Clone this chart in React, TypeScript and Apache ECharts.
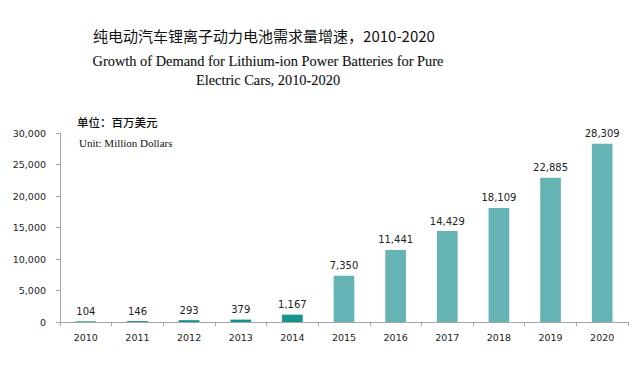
import React, { useEffect, useRef } from "react";
import * as echarts from "echarts";

const years = ["2010", "2011", "2012", "2013", "2014", "2015", "2016", "2017", "2018", "2019", "2020"];
const demand = [104, 146, 293, 379, 1167, 7350, 11441, 14429, 18109, 22885, 28309];
const yTicks = { min: 0, max: 30000, interval: 5000 };
const titleCn = "纯电动汽车锂离子动力电池需求量增速，2010-2020";
const titleEn1 = "Growth of Demand for Lithium-ion Power Batteries for Pure";
const titleEn2 = "Electric Cars, 2010-2020";
const unitCn = "单位：百万美元";
const unitEn = "Unit: Million Dollars";

const darkTeal = "#16948c";
const lightTeal = "#66b3b3";

export default function App() {
  const ref = useRef<HTMLDivElement>(null);
  useEffect(() => {
    if (!ref.current) return;
    const chart = echarts.init(ref.current, undefined, { renderer: "svg" });
    chart.setOption({
      animation: false,
      backgroundColor: "#ffffff",
      grid: { left: 60, right: 12, top: 133, bottom: 47 },
      graphic: [
        {
          type: "text",
          x: 264,
          y: 35,
          style: {
            text: titleCn,
            font: '15px "Noto Sans CJK SC"',
            fill: "#111",
            align: "center",
            verticalAlign: "middle",
          },
        },
        {
          type: "text",
          x: 268,
          y: 61,
          style: {
            text: titleEn1,
            font: '14.4px "Liberation Serif"',
            fill: "#111",
            stroke: "#111",
            lineWidth: 0.12,
            align: "center",
            verticalAlign: "middle",
          },
        },
        {
          type: "text",
          x: 268,
          y: 80,
          style: {
            text: titleEn2,
            font: '14.4px "Liberation Serif"',
            fill: "#111",
            stroke: "#111",
            lineWidth: 0.12,
            align: "center",
            verticalAlign: "middle",
          },
        },
        {
          type: "text",
          x: 77,
          y: 122,
          style: {
            text: unitCn,
            font: '500 11.5px "Noto Sans CJK SC"',
            fill: "#111",
            align: "left",
            verticalAlign: "middle",
          },
        },
        {
          type: "text",
          x: 79,
          y: 143,
          style: {
            text: unitEn,
            font: '11px "Liberation Serif"',
            fill: "#111",
            align: "left",
            verticalAlign: "middle",
          },
        },
      ],
      xAxis: {
        type: "category",
        data: years,
        axisLine: { show: true, lineStyle: { color: "#a6a6a6", width: 1 } },
        axisTick: { show: true, alignWithLabel: false, length: 4, lineStyle: { color: "#a6a6a6" } },
        axisLabel: { color: "#222", fontFamily: "DejaVu Sans", fontSize: 9.5, margin: 10 },
      },
      yAxis: {
        type: "value",
        min: yTicks.min,
        max: yTicks.max,
        interval: yTicks.interval,
        splitLine: { show: false },
        axisLine: { show: true, lineStyle: { color: "#a6a6a6", width: 1 } },
        axisTick: { show: true, length: 4, lineStyle: { color: "#a6a6a6" } },
        axisLabel: {
          color: "#222",
          fontFamily: "DejaVu Sans",
          fontSize: 9.5,
          margin: 14,
          formatter: (v: number) => v.toLocaleString("en-US"),
        },
      },
      series: [
        {
          type: "bar",
          barWidth: "40%",
          data: demand.map((v, i) => ({
            value: v,
            itemStyle: { color: i < 5 ? darkTeal : lightTeal },
          })),
          label: {
            show: true,
            position: "top",
            distance: 5,
            color: "#222",
            fontFamily: "DejaVu Sans",
            fontSize: 10,
            formatter: (p: any) => Number(p.value).toLocaleString("en-US"),
          },
        },
      ],
    });
    return () => chart.dispose();
  }, []);
  return (
    <div
      ref={ref}
      style={{ position: "fixed", left: 0, top: 0, width: 640, height: 369, background: "#fff" }}
    />
  );
}
